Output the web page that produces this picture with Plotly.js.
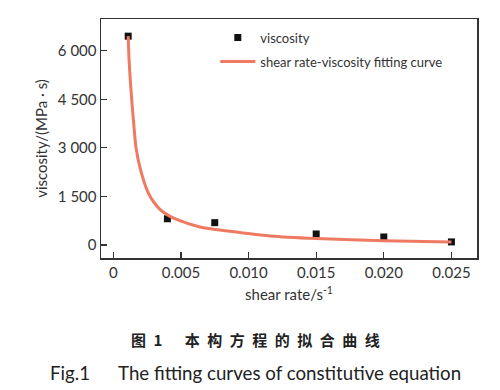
<!DOCTYPE html>
<html>
<head>
<meta charset="utf-8">
<script src="https://cdn.plot.ly/plotly-3.0.1.min.js"></script>
<style>html,body{margin:0;padding:0;background:#fff;}#chart{width:500px;height:390px;}</style>
</head>
<body>
<div id="chart"></div>
<script>
// measured points (shear rate, viscosity)
const shearRate = [0.0011, 0.004, 0.0075, 0.015, 0.020, 0.025];
const viscosity = [6450, 810, 690, 340, 247, 95];
// fitted curve
const fitRate = [0.0011, 0.00118, 0.00136, 0.00155, 0.00168, 0.00202, 0.00259, 0.003, 0.00345, 0.004, 0.00468, 0.0064, 0.00862, 0.0116, 0.015, 0.020, 0.025];
const fitVisc = [6450, 5610, 4500, 3550, 3000, 2310, 1600, 1320, 1100, 930, 790, 557, 424, 280, 200, 130, 95];
// tick labels
const xTickVals = [0, 0.005, 0.010, 0.015, 0.020, 0.025];
const xTickText = ['0', '0.005', '0.010', '0.015', '0.020', '0.025'];
const yTickVals = [0, 1500, 3000, 4500, 6000];
const yTickText = ['0', '1 500', '3 000', '4 500', '6 000'];

const FONT = 'Lato, "Open Sans", sans-serif';
const traces = [
  {
    x: shearRate, y: viscosity, type: 'scatter', mode: 'markers',
    name: 'viscosity', legendgroup: 'a',
    marker: {symbol: 'square', size: 7, color: '#111'}
  },
  {
    x: fitRate, y: fitVisc, type: 'scatter', mode: 'lines',
    name: 'shear rate-viscosity fitting curve', legendgroup: 'b',
    line: {color: '#EF7A62', width: 3, shape: 'spline', smoothing: 0.8}
  }
];
const axisCommon = {
  showline: true, mirror: true, linecolor: '#333', linewidth: 1.5,
  ticks: 'inside', ticklen: 6, tickwidth: 1.2, tickcolor: '#333',
  showgrid: false, zeroline: false,
  tickfont: {family: FONT, size: 15, color: '#333'}
};
const layout = {
  width: 500, height: 390,
  margin: {l: 101, r: 23, t: 19, b: 132},
  paper_bgcolor: '#fff', plot_bgcolor: '#fff',
  font: {family: FONT, color: '#333'},
  showlegend: true,
  legend: {
    x: 0.304, y: 0.985, xanchor: 'left', yanchor: 'top',
    bgcolor: 'rgba(0,0,0,0)', itemwidth: 35, tracegroupgap: 4,
    font: {family: FONT, size: 13, color: '#333'}
  },
  xaxis: Object.assign({}, axisCommon, {
    range: [-0.00091, 0.02689],
    tickmode: 'array', tickvals: xTickVals, ticktext: xTickText,
    title: {text: 'shear rate/s<sup>-1</sup>', font: {family: FONT, size: 15, color: '#333'}, standoff: 10}
  }),
  yaxis: Object.assign({}, axisCommon, {
    range: [-402, 6980],
    tickmode: 'array', tickvals: yTickVals, ticktext: yTickText,
    title: {text: 'viscosity/(MPa · s)', font: {family: FONT, size: 15, color: '#333'}, standoff: 6}
  }),
  annotations: [
    {
      xref: 'paper', yref: 'paper', x: (255.5 - 101) / 376.3, y: (257.7 - 339) / 238.7,
      xanchor: 'center', yanchor: 'middle', showarrow: false,
      text: '<b>图\u20021\u2003\u2002本\u2002构\u2002方\u2002程\u2002的\u2002拟\u2002合\u2002曲\u2002线</b>',
      font: {family: '"Noto Sans CJK SC", sans-serif', size: 15, color: '#222'}
    },
    {
      xref: 'paper', yref: 'paper', x: (256 - 101) / 376.3, y: (257.7 - 373) / 238.7,
      xanchor: 'center', yanchor: 'middle', showarrow: false,
      text: 'Fig.1\u2003\u2003The fitting curves of constitutive equation',
      font: {family: FONT, size: 18.7, color: '#222'}
    }
  ]
};
Plotly.newPlot('chart', traces, layout, {displayModeBar: false, staticPlot: true});
</script>
</body>
</html>
